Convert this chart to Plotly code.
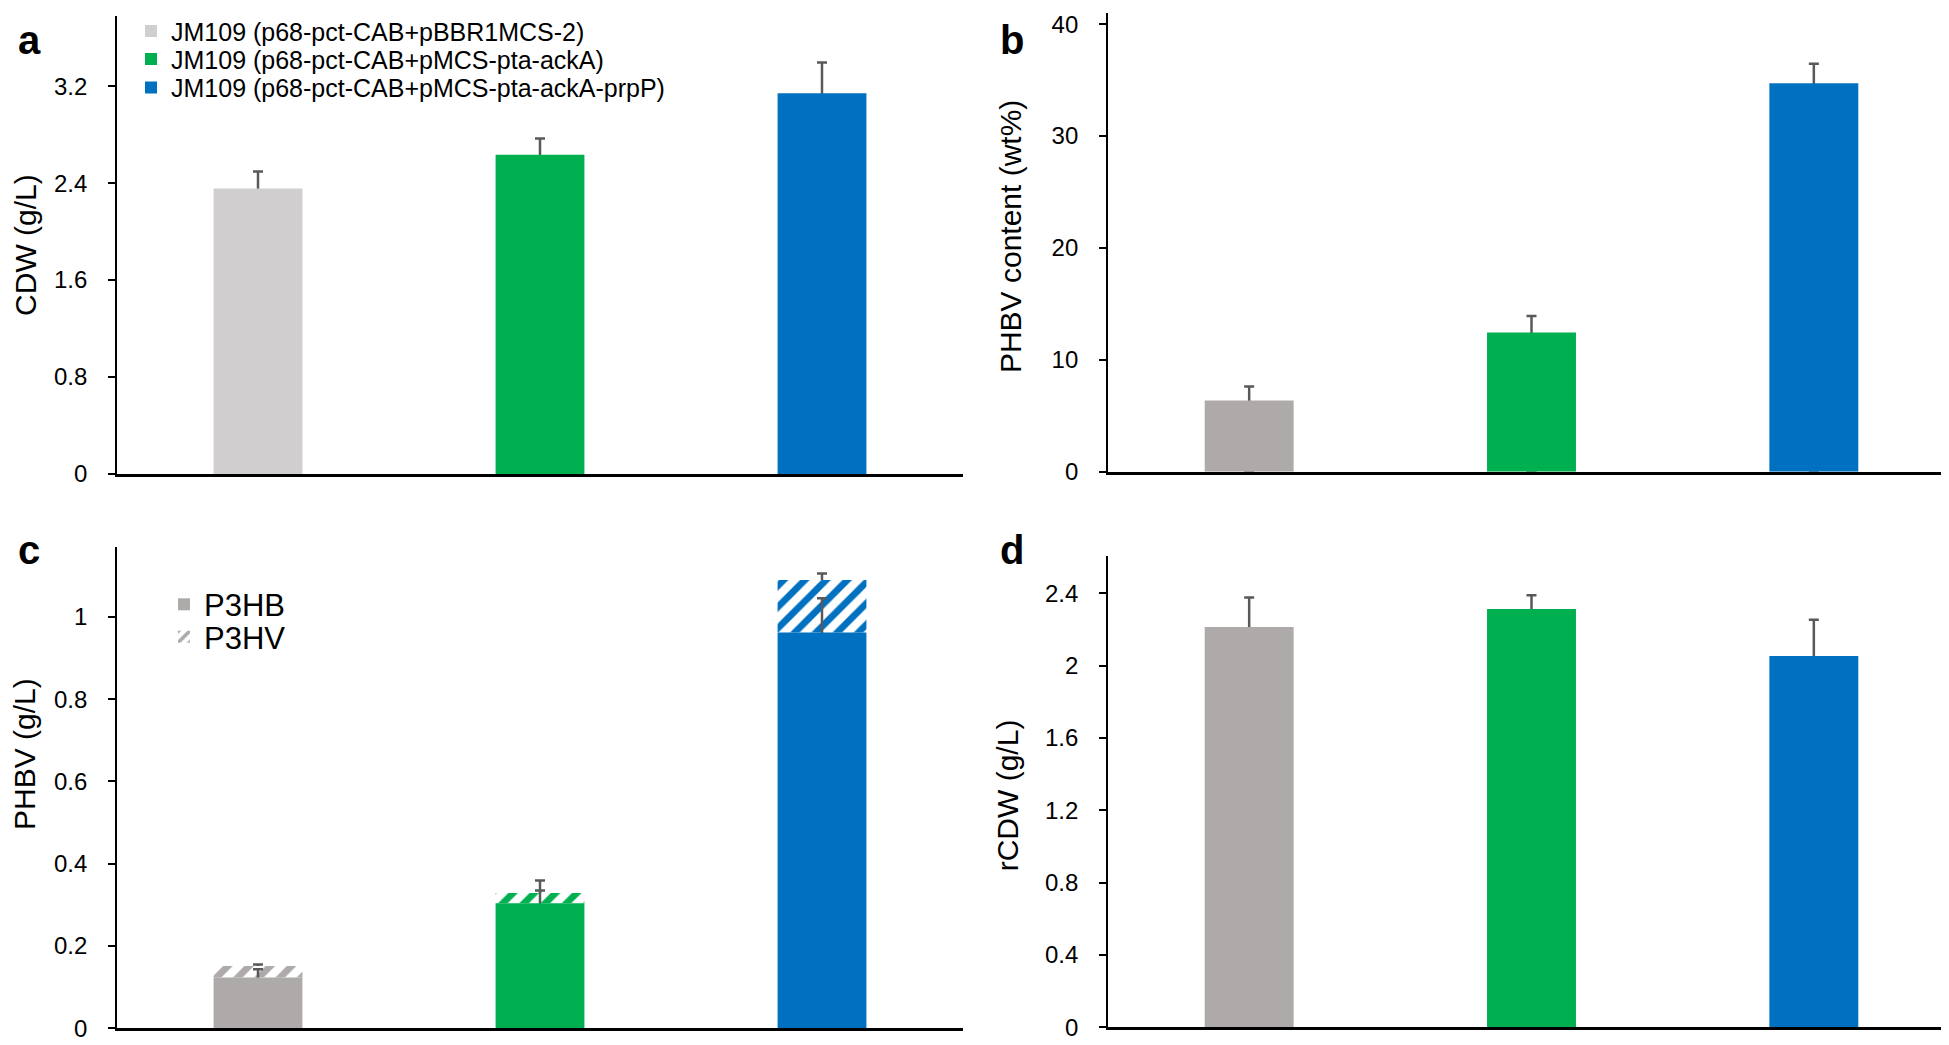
import plotly.graph_objects as go

W, H = 1949, 1045

# ---------------- data ----------------
strains = ["JM109 (p68-pct-CAB+pBBR1MCS-2)",
           "JM109 (p68-pct-CAB+pMCS-pta-ackA)",
           "JM109 (p68-pct-CAB+pMCS-pta-ackA-prpP)"]

cdw = [2.355, 2.635, 3.143]
cdw_err = [0.141, 0.133, 0.253]

phbv_content = [6.36, 12.45, 34.71]
phbv_content_err = [1.26, 1.47, 1.76]

p3hb = [0.1235, 0.304, 0.9625]
p3hb_err = [0.020, 0.031, 0.083]
p3hv = [0.0275, 0.025, 0.1275]
phbv_total_err = [0.004, 0.030, 0.016]

rcdw = [2.213, 2.313, 2.052]
rcdw_err = [0.163, 0.076, 0.201]

ticks_a = [0, 0.8, 1.6, 2.4, 3.2]
ticklabels_a = ["0", "0.8", "1.6", "2.4", "3.2"]
ticks_b = [0, 10, 20, 30, 40]
ticklabels_b = ["0", "10", "20", "30", "40"]
ticks_c = [0, 0.2, 0.4, 0.6, 0.8, 1.0]
ticklabels_c = ["0", "0.2", "0.4", "0.6", "0.8", "1"]
ticks_d = [0, 0.4, 0.8, 1.2, 1.6, 2.0, 2.4]
ticklabels_d = ["0", "0.4", "0.8", "1.2", "1.6", "2", "2.4"]

# ---------------- style ----------------
GRAY_A = "#D0CECE"
GRAY = "#AEAAAA"
GREEN = "#00B050"
BLUE = "#0070C0"
colors_a = [GRAY_A, GREEN, BLUE]
colors = [GRAY, GREEN, BLUE]
ERR = "#595959"
FONT = "Liberation Sans, Arial, sans-serif"
BAR_W = 0.315
CLEAR = "rgba(0,0,0,0)"


def err_carrier(x, top, plus, xaxis, yaxis):
    """Transparent bar that only carries an upward error bar; its stem starts at 0
    and is hidden behind the visible bar drawn afterwards."""
    return go.Bar(x=x, y=top, width=BAR_W, showlegend=False, hoverinfo="skip",
                  marker=dict(color=CLEAR, line=dict(width=0)),
                  error_y=dict(type="data", array=plus, arrayminus=top, symmetric=False,
                               color=ERR, thickness=2.5, width=5),
                  xaxis=xaxis, yaxis=yaxis)


fig = go.Figure()

# panel a : one trace per strain so that each gets a legend entry
legend_names_a = ["legend", "legend3", "legend4"]
for i, s in enumerate(strains):
    fig.add_trace(err_carrier([s], [cdw[i]], [cdw_err[i]], "x", "y"))
    fig.add_trace(go.Bar(x=[s], y=[cdw[i]], name=s, width=BAR_W,
                         marker=dict(color=colors_a[i], line=dict(width=0)),
                         xaxis="x", yaxis="y", legend=legend_names_a[i]))

# panel b
fig.add_trace(err_carrier(strains, phbv_content, phbv_content_err, "x2", "y2"))
fig.add_trace(go.Bar(x=strains, y=phbv_content, width=BAR_W, showlegend=False,
                     marker=dict(color=colors, line=dict(width=0)),
                     xaxis="x2", yaxis="y2"))

# panel c : P3HB + P3HV stacked (P3HV sits on P3HB)
phbv_total = [a + b for a, b in zip(p3hb, p3hv)]
fig.add_trace(err_carrier(strains, phbv_total, phbv_total_err, "x3", "y3"))
fig.add_trace(go.Bar(x=strains, y=p3hv, base=p3hb, width=BAR_W, name="P3HV",
                     marker=dict(color="white", line=dict(width=0),
                                 pattern=dict(shape="/", fgcolor=colors, bgcolor="white",
                                              size=15, solidity=0.45, fillmode="replace")),
                     xaxis="x3", yaxis="y3", legend="legend5"))
fig.add_trace(err_carrier(strains, p3hb, p3hb_err, "x3", "y3"))
fig.add_trace(go.Bar(x=strains, y=p3hb, width=BAR_W, name="P3HB",
                     marker=dict(color=colors, line=dict(width=0)),
                     xaxis="x3", yaxis="y3", legend="legend2"))

# panel d
fig.add_trace(err_carrier(strains, rcdw, rcdw_err, "x4", "y4"))
fig.add_trace(go.Bar(x=strains, y=rcdw, width=BAR_W, showlegend=False,
                     marker=dict(color=colors, line=dict(width=0)),
                     xaxis="x4", yaxis="y4"))


# ---------------- layout ----------------
def xax(domain, anchor):
    return dict(domain=domain, anchor=anchor, type="category", range=[-0.5, 2.5],
                showline=True, linecolor="black", linewidth=2.5, showticklabels=False,
                ticks="", showgrid=False, zeroline=False, fixedrange=True)


def yax(domain, anchor, rng, tv, tt):
    return dict(domain=domain, anchor=anchor, range=rng, tickvals=tv, ticktext=tt,
                showline=True, linecolor="black", linewidth=1.8, ticks="outside",
                ticklen=7, tickwidth=1.5, tickcolor="black", showgrid=False,
                zeroline=False, ticklabelstandoff=16, ticklabeloverflow="allow",
                tickfont=dict(family=FONT, size=24, color="black"))


def leg(xpx, ypx, size):
    return dict(x=xpx / W, y=1 - ypx / H, xanchor="left", yanchor="middle",
                bgcolor=CLEAR, font=dict(family=FONT, size=size, color="black"))


xa = [109 / W, 955 / W]
xb = [1100 / W, 1947 / W]

fig.update_layout(
    width=W, height=H, margin=dict(l=0, r=0, t=0, b=0),
    paper_bgcolor="white", plot_bgcolor="white", barmode="overlay",
    font=dict(family=FONT, color="black"),
    xaxis=xax(xa, "y"),
    yaxis=yax([1 - 469 / H, 1 - 3 / H], "x", [0, 3.78], ticks_a, ticklabels_a),
    xaxis2=xax(xb, "y2"),
    yaxis2=yax([1 - 466.7 / H, 1.0], "x2", [0, 41.0], ticks_b, ticklabels_b),
    xaxis3=xax(xa, "y3"),
    yaxis3=yax([1 - 1033 / H, 1 - 543 / H], "x3", [0, 1.171], ticks_c, ticklabels_c),
    xaxis4=xax(xb, "y4"),
    yaxis4=yax([1 - 1032 / H, 1 - 553 / H], "x4", [0, 2.603], ticks_d, ticklabels_d),
    legend=leg(123, 18.5, 25),
    legend3=leg(123, 47, 25),
    legend4=leg(123, 76, 25),
    legend2=leg(156, 602, 31),
    legend5=leg(156, 635, 31),
    showlegend=True,
)

annotations = []
# y-axis titles
for txt, xc, yc in [("CDW (g/L)", 18, 236), ("PHBV content (wt%)", 1002, 228),
                    ("PHBV (g/L)", 16, 754), ("rCDW (g/L)", 999, 796)]:
    annotations.append(dict(text=txt, x=xc / W, y=1 - yc / H, xref="paper", yref="paper",
                            textangle=-90, showarrow=False, xanchor="center", yanchor="middle",
                            font=dict(family=FONT, size=30, color="black")))
# panel letters
for txt, xl, yc in [("a", 8, 27), ("b", 990, 27), ("c", 8, 546), ("d", 990, 546)]:
    annotations.append(dict(text=f"<b>{txt}</b>", x=xl / W, y=1 - yc / H, xref="paper", yref="paper",
                            showarrow=False, xanchor="left", yanchor="middle",
                            font=dict(family=FONT, size=40, color="black")))
fig.update_layout(annotations=annotations)

fig.write_html("out.html")
